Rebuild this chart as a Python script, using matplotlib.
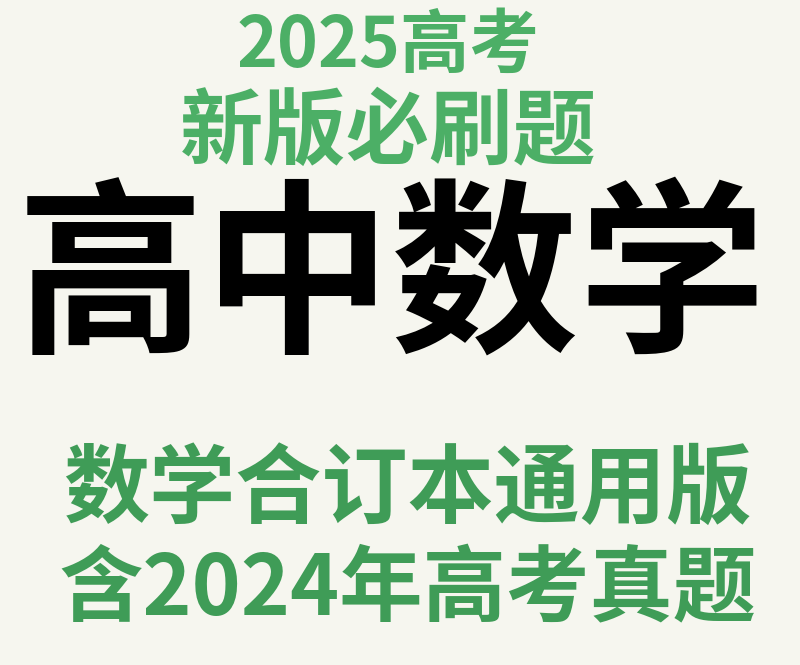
import matplotlib.pyplot as plt

plt.rcParams['font.family'] = ['Noto Sans CJK SC', 'DejaVu Sans']

lines = ["2025高考", "新版必刷题", "高中数学", "数学合订本通用版", "含2024年高考真题"]
colors = ["#4caf66", "#4caf66", "#000000", "#3f9c57", "#3f9c57"]
sizes = [50, 60, 135, 62, 60]
xs = [0.485, 0.485, 0.49, 0.51, 0.51]
ys = [0.93, 0.8, 0.575, 0.262, 0.112]

fig = plt.figure(figsize=(8, 6.65), dpi=100)
fig.patch.set_facecolor("#f6f6ef")
for text, c, s, x, y in zip(lines, colors, sizes, xs, ys):
    fig.text(x, y, text, color=c, fontsize=s, fontweight="black",
             ha="center", va="center")
fig.savefig("out.png", facecolor=fig.get_facecolor())
